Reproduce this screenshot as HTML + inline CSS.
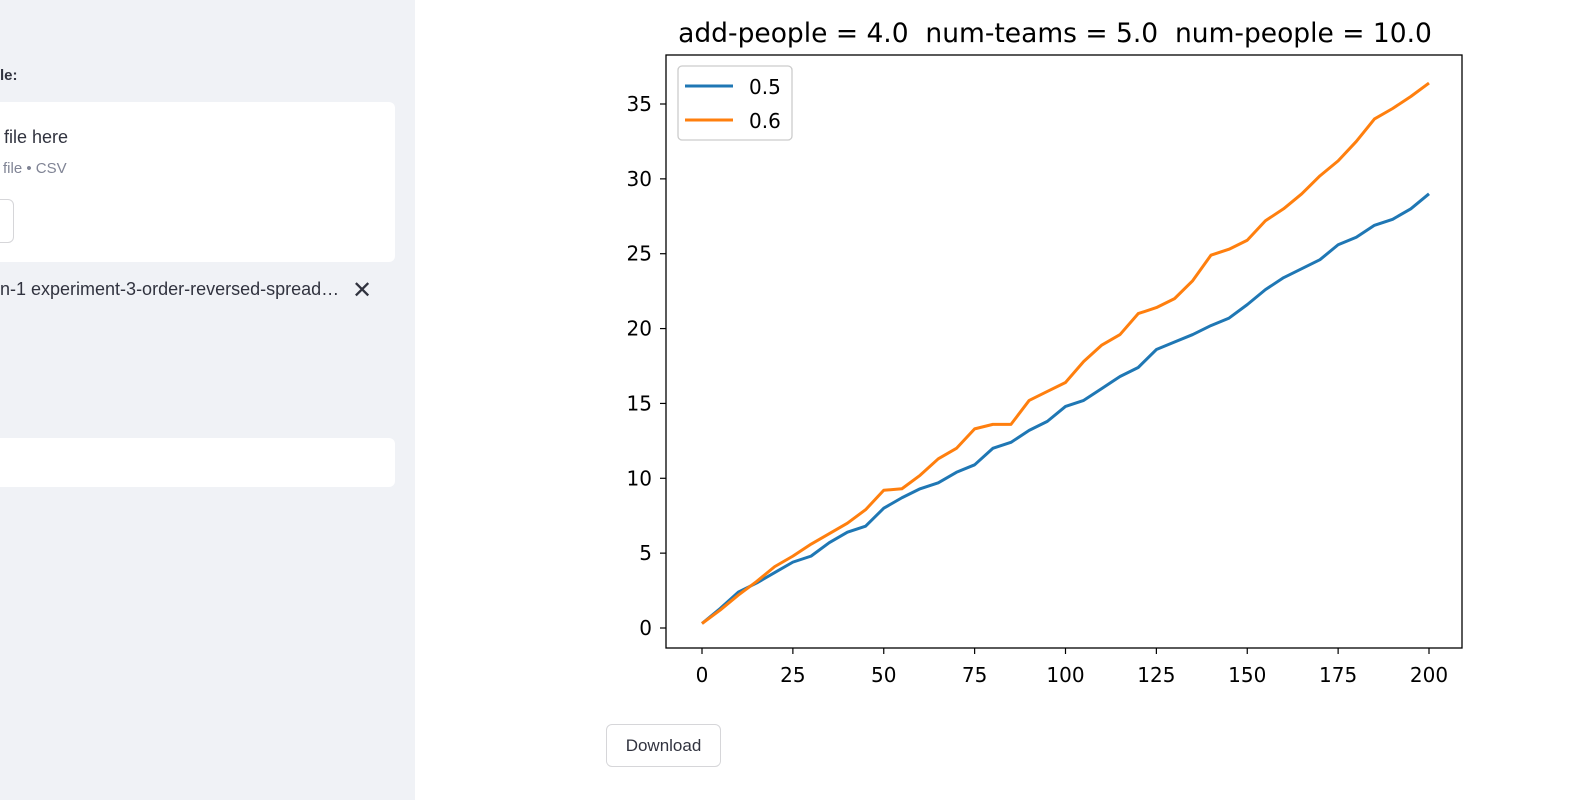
<!DOCTYPE html>
<html><head><meta charset="utf-8">
<style>
body{margin:0;width:1582px;height:800px;background:#fff;font-family:"Liberation Sans","DejaVu Sans",sans-serif;position:relative;overflow:hidden}
.side{position:absolute;left:0;top:0;width:415px;height:800px;background:#f0f2f6}
.abs{position:absolute}
#chart text{font-family:"DejaVu Sans",sans-serif}
</style></head><body>
<div class="side">
  <div class="abs" style="left:0;top:67px;font-size:15px;font-weight:bold;color:#31333f">le:</div>
  <div class="abs" style="left:-10px;top:102px;width:405px;height:160px;background:#fff;border-radius:6px">
    <div class="abs" style="left:14px;top:25px;font-size:18px;color:#31333f">file here</div>
    <div class="abs" style="left:13px;top:58px;font-size:15px;color:#808495">file • CSV</div>
    <div class="abs" style="left:-20px;top:97px;width:42px;height:42px;border:1px solid #d6d6d9;border-radius:6px;background:#fff"></div>
  </div>
  <div class="abs" style="left:0;top:279px;font-size:18px;color:#31333f;white-space:nowrap">n-1 experiment-3-order-reversed-spread…</div>
  <div class="abs" style="left:352px;top:276px;font-size:24px;color:#31333f">✕</div>
  <div class="abs" style="left:-10px;top:438px;width:405px;height:49px;background:#fff;border-radius:6px"></div>
</div>
<div class="abs" style="left:606px;top:724px;width:113px;height:41px;border:1px solid #d6d6d9;border-radius:6px;font-size:17px;color:#31333f;text-align:center;line-height:41px">Download</div>
<svg id="chart" class="abs" style="left:0;top:0" width="1582" height="800"></svg>
<script>
const xs=[0,5,10,15,20,25,30,35,40,45,50,55,60,65,70,75,80,85,90,95,100,105,110,115,120,125,130,135,140,145,150,155,160,165,170,175,180,185,190,195,200];
const series05=[0.3,1.3,2.4,3.0,3.7,4.4,4.8,5.7,6.4,6.8,8.0,8.7,9.3,9.7,10.4,10.9,12.0,12.4,13.2,13.8,14.8,15.2,16.0,16.8,17.4,18.6,19.1,19.6,20.2,20.7,21.6,22.6,23.4,24.0,24.6,25.6,26.1,26.9,27.3,28.0,29.0];
const series06=[0.3,1.2,2.2,3.1,4.1,4.8,5.6,6.3,7.0,7.9,9.2,9.3,10.2,11.3,12.0,13.3,13.6,13.6,15.2,15.8,16.4,17.8,18.9,19.6,21.0,21.4,22.0,23.2,24.9,25.3,25.9,27.2,28.0,29.0,30.2,31.2,32.5,34.0,34.7,35.5,36.4];
const xTicks=[0,25,50,75,100,125,150,175,200];
const yTicks=[0,5,10,15,20,25,30,35];
const seriesNames=["0.5","0.6"];
const colors=["#1f77b4","#ff7f0e"];
const X=v=>702+v*(1429-702)/200;
const Y=v=>628-v*(628-104)/35;
const svg=document.getElementById('chart');
const NS="http://www.w3.org/2000/svg";
function mk(t,a,txt){const e=document.createElementNS(NS,t);for(const k in a)e.setAttribute(k,a[k]);if(txt!==undefined)e.textContent=txt;svg.appendChild(e);return e;}
const frame=mk('rect',{x:666,y:55,width:796,height:593,fill:'none',stroke:'#000','stroke-width':1.3});


const title=mk('text',{x:1055,y:42,'text-anchor':'middle','font-size':26.5,fill:'#000',style:'white-space:pre'},'add-people = 4.0  num-teams = 5.0  num-people = 10.0');


xTicks.forEach(v=>{
  const l=mk('line',{x1:X(v),x2:X(v),y1:648,y2:654,stroke:'#000','stroke-width':1.2});
  
  
  const t=mk('text',{x:X(v),y:682,'text-anchor':'middle','font-size':20,fill:'#000'},String(v));
  
  
});
yTicks.forEach(v=>{
  const l=mk('line',{x1:660,x2:666,y1:Y(v),y2:Y(v),stroke:'#000','stroke-width':1.2});
  
  
  const t=mk('text',{x:652,y:Y(v)+7,'text-anchor':'end','font-size':20,fill:'#000'},String(v));
  
  
});
[series05,series06].forEach((s,i)=>{
  const p=mk('polyline',{points:s.map((v,j)=>X(xs[j])+','+Y(v)).join(' '),fill:'none',stroke:colors[i],'stroke-width':3,'stroke-linejoin':'round'});
  
  
});
const lg=mk('rect',{x:678,y:66,width:114,height:74,rx:4,fill:'#fff',stroke:'#ccc','stroke-width':1.3});


seriesNames.forEach((n,i)=>{
  const y=86+i*34;
  const l=mk('line',{x1:685,x2:733,y1:y,y2:y,stroke:colors[i],'stroke-width':3});
  
  
  const t=mk('text',{x:749,y:y+8,'font-size':20,fill:'#000'},n);
  
  
});
</script>
</body></html>
